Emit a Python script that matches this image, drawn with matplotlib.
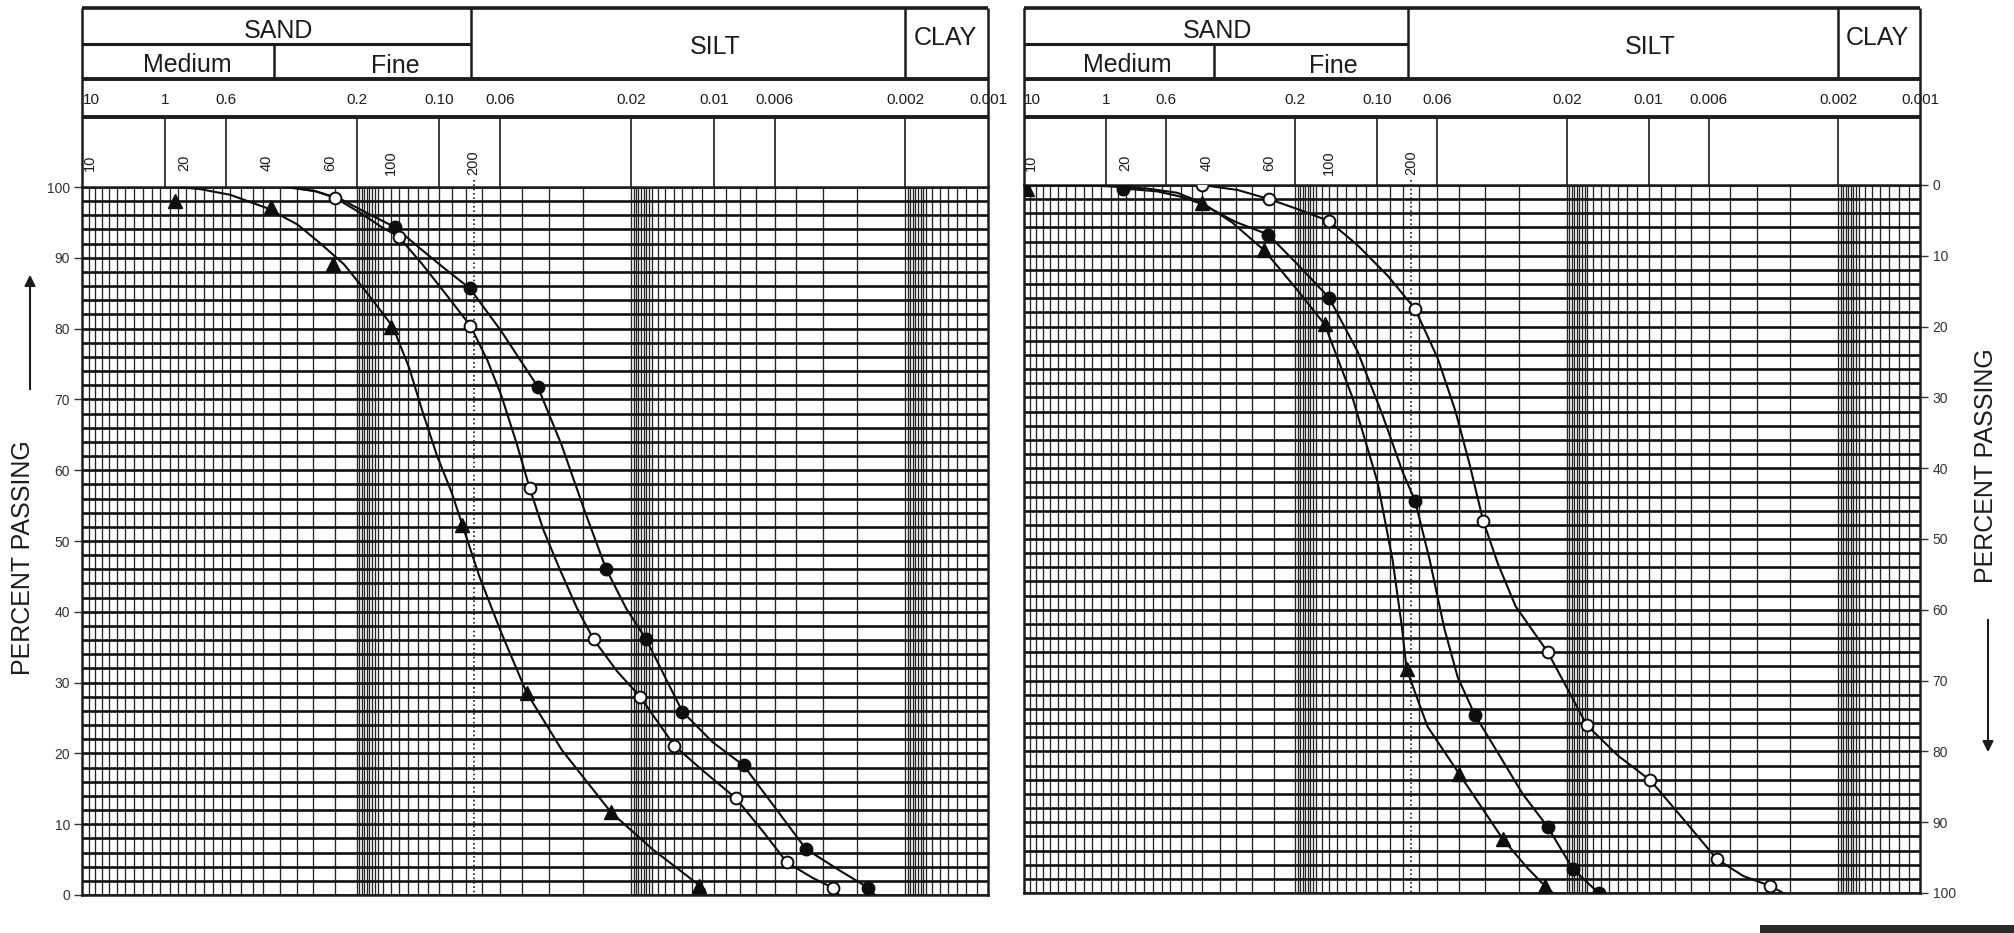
import numpy as np
import matplotlib.pyplot as plt
from matplotlib import transforms
from matplotlib.patches import FancyArrowPatch, Rectangle

plt.rcParams['font.family'] = ['Liberation Sans', 'DejaVu Sans']

W, H = 2015, 933
INK = '#1c1c1c'

# grain size (mm) printed along the top of each sheet
size_ticks = [2.0, 1.0, 0.6, 0.2, 0.1, 0.06, 0.02, 0.01, 0.006, 0.002, 0.001]
size_labels = ['10', '1', '0.6', '0.2', '0.10', '0.06', '0.02', '0.01', '0.006', '0.002', '0.001']

# US sieve numbers and their openings (mm)
sieve_sizes = [2.0, 0.85, 0.425, 0.25, 0.15, 0.075]
sieve_labels = ['10', '20', '40', '60', '100', '200']

# soil class band limits (mm)
class_edges = [2.0, 0.4, 0.077, 0.002, 0.001]
percent_ticks = list(range(0, 101, 10))

# left sheet - percent passing
left_tri_d = [0.92, 0.411, 0.244, 0.150, 0.0827, 0.0481, 0.0237, 0.01136]
left_tri_pct = [98.0, 97.2, 89.1, 80.2, 52.3, 28.6, 11.7, 1.3]
left_dot_d = [0.1448, 0.0775, 0.0438, 0.0247, 0.01762, 0.0130, 0.00778, 0.00461, 0.00273]
left_dot_pct = [94.3, 85.7, 71.8, 46.1, 36.1, 25.9, 18.3, 6.5, 1.0]
left_open_d = [0.2408, 0.1409, 0.0771, 0.0469, 0.0274, 0.01854, 0.01392, 0.00832, 0.00541, 0.00367]
left_open_pct = [98.5, 93.0, 80.4, 57.5, 36.1, 28.0, 21.1, 13.7, 4.6, 1.0]

# hand-fitted gradation curves, left sheet
left_tri_curve_d = [0.912, 0.745, 0.579, 0.424, 0.329, 0.271, 0.223, 0.1885, 0.1634, 0.1476,
                    0.129, 0.1146, 0.1019, 0.0905, 0.0825, 0.0715, 0.0594, 0.0481, 0.0358,
                    0.0237, 0.01676, 0.0108]
left_tri_curve_pct = [100, 99.7, 98.9, 97.0, 94.7, 92.0, 89.1, 85.6, 82.5, 80.2,
                      74.5, 68.0, 62.0, 57.0, 52.3, 45.0, 37.0, 28.6, 20.5,
                      11.7, 6.5, 0.8]
left_dot_curve_d = [0.364, 0.2826, 0.2289, 0.1854, 0.1448, 0.1166, 0.0944, 0.0775, 0.0594,
                    0.0438, 0.0358, 0.0297, 0.0247, 0.02086, 0.01762, 0.01514, 0.0130,
                    0.0101, 0.00778, 0.00599, 0.00461, 0.00352, 0.00273, 0.00258]
left_dot_curve_pct = [100, 99.4, 98.3, 96.4, 94.3, 91.2, 88.3, 85.7, 79.6,
                      71.8, 63.5, 54.5, 46.1, 40.5, 36.1, 31.0, 25.9,
                      21.6, 18.3, 12.4, 6.5, 3.6, 1.0, 0.0]
left_open_curve_d = [0.349, 0.2826, 0.2408, 0.1933, 0.1634, 0.1409, 0.1166, 0.0944, 0.0771,
                     0.0668, 0.0594, 0.0523, 0.0469, 0.0417, 0.0364, 0.0315, 0.0274, 0.0225,
                     0.01854, 0.01392, 0.01098, 0.00832, 0.00662, 0.00541, 0.00435, 0.00367,
                     0.00349]
left_open_curve_pct = [100, 99.4, 98.5, 96.3, 94.4, 93.0, 89.3, 84.8, 80.4,
                       75.5, 70.5, 63.8, 57.5, 51.5, 46.0, 40.5, 36.1, 31.6,
                       28.0, 21.1, 17.6, 13.7, 9.0, 4.6, 2.4, 1.0,
                       0.0]

# right sheet - scale runs 0 at top to 100 at bottom
right_tri_d = [1.95, 0.442, 0.261, 0.156, 0.0779, 0.0498, 0.0344, 0.0241]
right_tri_pct = [0.5, 2.5, 9.2, 19.7, 68.4, 83.2, 92.4, 99.0]
right_dot_d = [0.863, 0.252, 0.1505, 0.0725, 0.0437, 0.0235, 0.0190, 0.01528]
right_dot_pct = [0.5, 7.0, 15.9, 44.6, 74.8, 90.7, 96.6, 100.0]
right_open_d = [0.442, 0.2496, 0.1505, 0.0725, 0.0407, 0.0235, 0.01688, 0.00984, 0.00561, 0.00356]
right_open_pct = [0.0, 2.0, 5.1, 17.5, 47.4, 66.0, 76.3, 84.1, 95.2, 99.0]

right_tri_curve_d = [1.95, 1.076, 0.703, 0.545, 0.442, 0.342, 0.261, 0.2, 0.156, 0.1233,
                     0.0996, 0.0877, 0.0810, 0.0779, 0.0652, 0.0498, 0.0344, 0.0279,
                     0.0241, 0.0225]
right_tri_curve_pct = [0.0, 0.1, 0.5, 1.1, 2.5, 5.3, 9.2, 14.5, 19.7, 30.0,
                       42.0, 53.0, 62.5, 68.4, 76.5, 83.2, 92.4, 96.5,
                       99.0, 100.0]
right_dot_curve_d = [0.863, 0.646, 0.522, 0.442, 0.333, 0.252, 0.1966, 0.1505, 0.1181,
                     0.0955, 0.0806, 0.0725, 0.064, 0.0565, 0.0505, 0.0437, 0.0359,
                     0.0291, 0.0235, 0.0190, 0.01528]
right_dot_curve_pct = [0.5, 0.9, 1.7, 2.7, 5.2, 7.0, 11.2, 15.9, 23.5,
                       32.5, 40.5, 44.6, 53.0, 62.7, 69.5, 74.8, 80.2,
                       86.0, 90.7, 96.6, 100.0]
right_open_curve_d = [0.442, 0.327, 0.2496, 0.1933, 0.1505, 0.1181, 0.0915, 0.0725, 0.0598,
                      0.0514, 0.0456, 0.0407, 0.0359, 0.0309, 0.0235, 0.01688, 0.01296,
                      0.00984, 0.00747, 0.00561, 0.00448, 0.00356, 0.00319]
right_open_curve_pct = [0.0, 0.7, 2.0, 3.5, 5.1, 8.5, 12.8, 17.5, 24.5,
                        32.0, 39.5, 47.4, 53.5, 59.5, 66.0, 76.3, 80.6,
                        84.1, 89.5, 95.2, 97.6, 99.0, 100.0]

fig = plt.figure(figsize=(W / 100, H / 100), dpi=100)


def fy(py):
    return 1 - py / H


def add_sheet(x0, x1, y0, y1):
    return fig.add_axes([x0 / W, 1 - y1 / H, (x1 - x0) / W, (y1 - y0) / H])


def paper_lines():
    # ruling of the printed 3-cycle log paper, denser at the top of each cycle
    ratios = np.r_[np.arange(1.0, 0.83, -0.02), np.arange(0.80, 0.34, -0.05),
                   [0.30, 0.25, 0.20, 0.15]]
    first = [0.95, 0.9, 0.85, 0.8, 0.75, 0.7, 0.65, 0.6, 0.56, 0.52, 0.48, 0.45, 0.42,
             0.39, 0.36, 0.335, 0.31, 0.29, 0.265, 0.24, 0.22, 0.19, 0.165, 0.145, 0.12]
    xs = [2.0 * r for r in first]
    for top in [0.2, 0.02, 0.002]:
        xs += [top * r for r in ratios if top * r >= 0.00101]
    return xs


def draw_sheet(ax, top_px, bottom_px, side):
    ax.set_xscale('log')
    ax.set_xlim(2.0, 0.001)
    if side == 'left':
        ax.set_ylim(0, 100)
    else:
        ax.set_ylim(100, 0)

    ax.vlines(paper_lines(), 0, 1, transform=ax.get_xaxis_transform(),
              colors='#262626', lw=0.95, zorder=1)
    ax.hlines(np.arange(0, 101, 2), 2.0, 0.001, colors='#111111', lw=1.9, zorder=1)

    for s in ax.spines.values():
        s.set_linewidth(1.8)
        s.set_color(INK)

    ax.tick_params(axis='x', which='both', bottom=False, top=False, labelbottom=False)
    ax.set_yticks(percent_ticks)
    ax.tick_params(axis='y', direction='out', length=6, width=1.0, labelsize=10,
                   colors='#333333', pad=3)
    if side == 'right':
        ax.yaxis.tick_right()

    bt = transforms.blended_transform_factory(ax.transData, fig.transFigure)
    line = dict(transform=bt, color=INK, clip_on=False, solid_capstyle='butt')

    # class table above the sheet
    ax.plot([2.0, 0.001], [fy(8), fy(8)], lw=2.6, **line)
    ax.plot([2.0, class_edges[2]], [fy(44), fy(44)], lw=2.2, **line)
    ax.plot([2.0, 0.001], [fy(79), fy(79)], lw=2.8, **line)
    ax.plot([2.0, 0.001], [fy(117), fy(117)], lw=2.8, **line)
    for x in [2.0, 0.001]:
        ax.plot([x, x], [fy(8), fy(top_px)], lw=1.8, **line)
    ax.plot([class_edges[1]] * 2, [fy(44), fy(79)], lw=1.8, **line)
    for x in class_edges[2:4]:
        ax.plot([x, x], [fy(8), fy(79)], lw=1.8, **line)
    for x in size_ticks[1:-1]:
        ax.plot([x, x], [fy(117), fy(top_px)], lw=1.2, **line)

    head = dict(transform=bt, color=INK, fontsize=18, ha='center', va='center')
    ax.text(0.386, fy(31), 'SAND', **head)
    ax.text(0.83, fy(65), 'Medium', **head)
    ax.text(0.145, fy(66), 'Fine', **head)
    ax.text(0.0099, fy(47), 'SILT', **head)
    ax.text(0.00143, fy(38), 'CLAY', **head)

    for i, (s, lab) in enumerate(zip(size_ticks, size_labels)):
        ax.text(s, fy(100), lab, transform=bt, fontsize=11, color=INK, va='center',
                ha='left' if i == 0 else 'center')

    for i, (s, lab) in enumerate(zip(sieve_sizes, sieve_labels)):
        ax.text(s, fy(163), lab, transform=bt, fontsize=10.5, color=INK, rotation=90,
                va='center', ha='left' if i == 0 else 'center')

    # No. 200 sieve marked down the sheet
    ax.plot([sieve_sizes[-1]] * 2, [fy(180), fy(bottom_px)], transform=bt, color=INK,
            lw=1.2, ls=(0, (1, 1.6)), clip_on=False, zorder=2)


def draw_series(ax, tri, dot, opn):
    curve = dict(color='#0d0d0d', lw=1.5, zorder=3, solid_joinstyle='round')
    for d, p in [tri[2:], dot[2:], opn[2:]]:
        ax.plot(d, p, **curve)
    ax.plot(tri[0], tri[1], ls='none', marker='^', ms=10, color='#0d0d0d', zorder=4)
    ax.plot(dot[0], dot[1], ls='none', marker='o', ms=9, color='#0d0d0d', zorder=4)
    ax.plot(opn[0], opn[1], ls='none', marker='o', ms=8.5, mfc='white', mec='#0d0d0d',
            mew=1.4, zorder=4)


ax_l = add_sheet(82.5, 988, 187, 895)
draw_sheet(ax_l, 187, 895, 'left')
draw_series(ax_l,
            (left_tri_d, left_tri_pct, left_tri_curve_d, left_tri_curve_pct),
            (left_dot_d, left_dot_pct, left_dot_curve_d, left_dot_curve_pct),
            (left_open_d, left_open_pct, left_open_curve_d, left_open_curve_pct))

ax_r = add_sheet(1024, 1920, 185, 893)
draw_sheet(ax_r, 185, 893, 'right')
draw_series(ax_r,
            (right_tri_d, right_tri_pct, right_tri_curve_d, right_tri_curve_pct),
            (right_dot_d, right_dot_pct, right_dot_curve_d, right_dot_curve_pct),
            (right_open_d, right_open_pct, right_open_curve_d, right_open_curve_pct))

# axis captions with direction arrows
fig.text(23 / W, fy(558), 'PERCENT PASSING', rotation=90, fontsize=18, color=INK,
         ha='center', va='center')
fig.add_artist(FancyArrowPatch((30 / W, fy(392)), (30 / W, fy(272)),
                               transform=fig.transFigure, arrowstyle='-|>',
                               mutation_scale=16, lw=1.5, color=INK))
fig.text(1986 / W, fy(466), 'PERCENT PASSING', rotation=90, fontsize=18, color=INK,
         ha='center', va='center')
fig.add_artist(FancyArrowPatch((1988 / W, fy(617)), (1988 / W, fy(755)),
                               transform=fig.transFigure, arrowstyle='-|>',
                               mutation_scale=16, lw=1.5, color=INK))

# dark strip along the lower right edge of the sheet
fig.add_artist(Rectangle((1760 / W, 0), (W - 1760) / W, 8 / H, transform=fig.transFigure,
                         facecolor='#2a2a2a', edgecolor='none'))

fig.savefig('out.png', dpi=100, facecolor='white')
